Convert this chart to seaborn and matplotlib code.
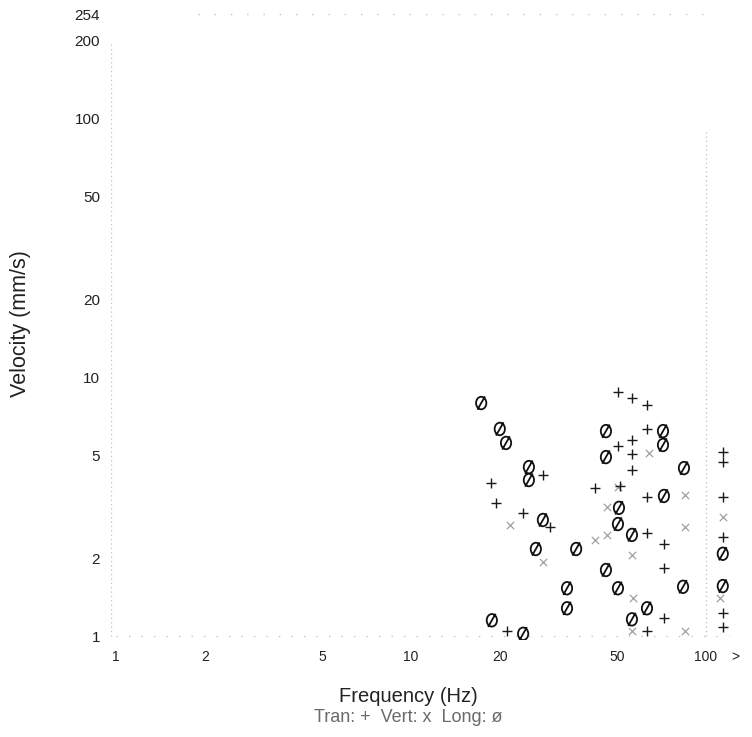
import numpy as np
import pandas as pd
import matplotlib
matplotlib.use("Agg")
import matplotlib.pyplot as plt
from matplotlib.path import Path
from matplotlib.transforms import Affine2D
import seaborn as sns

# ---------------- data ----------------
long_freq = [17.3, 20.0, 21.0, 25.1, 25.1, 28.0, 26.5, 36.3, 33.8, 33.8, 18.8, 24.0,
             45.8, 45.8, 71.5, 71.5, 84.2, 72.0, 50.7, 50.3, 56.1, 45.8, 50.3, 63.1,
             56.1, 83.6, 114, 114]
long_vel = [7.96, 6.32, 5.58, 4.50, 4.01, 2.81, 2.17, 2.17, 1.53, 1.28, 1.15, 1.02,
            6.20, 4.92, 6.20, 5.48, 4.46, 3.48, 3.13, 2.71, 2.46, 1.80, 1.53, 1.28,
            1.16, 1.55, 2.08, 1.56]

tran_freq = [50.3, 56.1, 63.1, 63.1, 50.3, 56.1, 56.1, 56.1, 18.7, 19.4, 24.0, 28.0,
             42.0, 51.1, 63.1, 29.6, 63.1, 72.0, 72.0, 72.0, 63.1, 21.2,
             114, 114, 114, 114, 114, 114]
tran_vel = [8.78, 8.32, 7.82, 6.32, 5.43, 5.73, 5.06, 4.38, 3.91, 3.27, 2.99, 4.19,
            3.74, 3.80, 3.45, 2.64, 2.50, 2.27, 1.83, 1.17, 1.05, 1.05,
            5.15, 4.71, 3.45, 2.41, 1.23, 1.08]

vert_freq = [21.7, 28.0, 46.2, 50.3, 64.1, 84.9, 84.9, 56.1, 42.0, 46.2, 56.6, 56.1,
             84.9, 114, 111.6]
vert_vel = [2.69, 1.93, 3.15, 3.77, 5.10, 3.51, 2.64, 2.06, 2.35, 2.46, 1.40, 1.05,
            1.05, 2.89, 1.40]

x_ticks = [1, 2, 5, 10, 20, 50, 100, 126]
x_ticklabels = ["1", "2", "5", "10", "20", "50", "100", ">"]
y_ticks = [1, 2, 5, 10, 20, 50, 100, 200, 254]
y_ticklabels = ["1", "2", "5", "10", "20", "50", "100", "200", "254"]

x_label = "Frequency (Hz)"
y_label = "Velocity (mm/s)"
legend_text = "Tran: +  Vert: x  Long: ø"

# ---------------- style ----------------
sns.set_theme(style="white")
plt.rcParams["font.family"] = ["Liberation Sans", "DejaVu Sans"]

fig = plt.figure(figsize=(7.52, 7.37), dpi=100)
ax = fig.add_axes([0.1476, 0.1316, 0.8431, 0.8548])
ax.set_xscale("log")
ax.set_yscale("log")
ax.set_xlim(0.962, 135.6)
ax.set_ylim(0.965, 263.5)

for s in ax.spines.values():
    s.set_visible(False)

# faint dotted frame / reference lines
dot = dict(color="#bdbdbd", linewidth=0.9)
ax.vlines(0.965, 1, 200, linestyles=[(0, (1, 2.5))], **dot)
ax.vlines(100, 1, 90, linestyles=[(0, (1, 2.5))], **dot)
ax.hlines(1, 1, 120, linestyles=[(0, (1, 9))], **dot)
ax.hlines(254, 1.9, 100, linestyles=[(0, (1, 12))], **dot)

# slashed-oval marker for "Long"
oval = Path.unit_circle().transformed(Affine2D().scale(0.82, 1.0))
slash = Path([(-0.6, -1.05), (0.6, 1.05)], [Path.MOVETO, Path.LINETO])
o_slash = Path.make_compound_path(oval, slash)

df_long = pd.DataFrame({"f": long_freq, "v": long_vel})
df_tran = pd.DataFrame({"f": tran_freq, "v": tran_vel})
df_vert = pd.DataFrame({"f": vert_freq, "v": vert_vel})

sns.scatterplot(data=df_vert, x="f", y="v", marker="x", s=28, color="#a0a0a0",
                linewidth=0.9, ax=ax, zorder=3)
sns.scatterplot(data=df_tran, x="f", y="v", marker="+", s=55, color="#1a1a1a",
                linewidth=1.0, ax=ax, zorder=4)
sns.scatterplot(data=df_long, x="f", y="v", marker=o_slash, s=90,
                facecolor="none", edgecolor="#111111", linewidth=1.3, ax=ax, zorder=5)

ax.set_xticks(x_ticks)
ax.set_xticklabels(x_ticklabels, fontsize=10, color="#222222")
ax.set_yticks(y_ticks)
ax.set_yticklabels(y_ticklabels, fontsize=11, color="#222222")
ax.minorticks_off()
ax.tick_params(axis="x", length=0, pad=7)
ax.tick_params(axis="y", length=0, pad=8)
ax.set_xlabel("")
ax.set_ylabel("")

fig.text(21 / 752, 1 - 324 / 737, y_label, rotation=90, ha="center", va="center",
         fontsize=15.5, color="#222222")
fig.text(408 / 752, 1 - 696 / 737, x_label, ha="center", va="center",
         fontsize=14.5, color="#222222")
fig.text(408 / 752, 1 - 717 / 737, legend_text, ha="center", va="center",
         fontsize=13, color="#6a6a6a")

fig.savefig("out.png", dpi=100)
